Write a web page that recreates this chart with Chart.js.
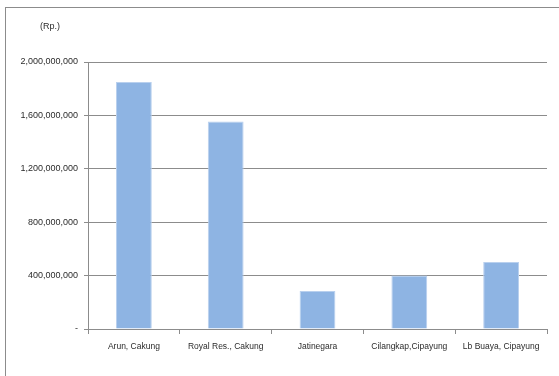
<!DOCTYPE html>
<html>
<head>
<meta charset="utf-8">
<script src="https://cdn.jsdelivr.net/npm/chart.js@4/dist/chart.umd.min.js"></script>
<style>
  html, body { margin: 0; padding: 0; background: #fff; }
  #wrap { position: relative; width: 559px; height: 376px; overflow: hidden; }
  #frame { position: absolute; left: 5px; top: 7px; width: 1000px; height: 1000px; border: 1px solid #8c8c8c; box-sizing: border-box; }
  canvas { position: absolute; left: 0; top: 0; }
</style>
</head>
<body>
<div id="wrap">
  <div id="frame"></div>
  <canvas id="c" width="559" height="376"></canvas>
</div>
<script>
// Project locations and their values in rupiah
const categories = ['Arun, Cakung', 'Royal Res., Cakung', 'Jatinegara', 'Cilangkap,Cipayung', 'Lb Buaya, Cipayung'];
const values = [1850000000, 1555000000, 285000000, 400000000, 502000000];
const unitLabel = '(Rp.)';
const yMax = 2000000000;
const yStep = 400000000;

const FONT = "'Liberation Sans Narrow', 'Liberation Sans', Arial, sans-serif";
const TEXT = '#2b2b2b';

const unitTitle = {
  id: 'unitTitle',
  afterDraw(chart) {
    const ctx = chart.ctx;
    ctx.save();
    ctx.font = '9px ' + FONT;
    ctx.fillStyle = TEXT;
    ctx.textAlign = 'center';
    ctx.textBaseline = 'middle';
    ctx.fillText(unitLabel, 50, 27);
    ctx.restore();
  }
};

new Chart(document.getElementById('c'), {
  type: 'bar',
  data: {
    labels: categories,
    datasets: [{
      data: values,
      backgroundColor: '#8eb4e3',
      borderColor: '#b9d0ee',
      borderWidth: 1,
      categoryPercentage: 1,
      barPercentage: 0.39
    }]
  },
  options: {
    responsive: false,
    animation: false,
    events: [],
    layout: { padding: { left: 0, right: 12, top: 62, bottom: 0 } },
    plugins: { legend: { display: false }, tooltip: { enabled: false }, title: { display: false } },
    scales: {
      x: {
        grid: { offset: true, drawOnChartArea: false, drawTicks: true, tickLength: 5, color: '#8c8c8c' },
        border: { color: '#8c8c8c' },
        ticks: { color: TEXT, font: { family: FONT, size: 8.5 }, padding: 8, maxRotation: 0, autoSkip: false },
        afterFit(scale) { scale.height = 47; }
      },
      y: {
        min: 0,
        max: yMax,
        grid: { color: '#8c8c8c', drawTicks: true, tickLength: 4 },
        border: { color: '#8c8c8c' },
        ticks: {
          stepSize: yStep,
          color: TEXT,
          font: { family: FONT, size: 9 },
          padding: 6,
          callback: v => v === 0 ? '-' : Number(v).toLocaleString('en-US')
        },
        afterFit(scale) { scale.width = 88; }
      }
    }
  },
  plugins: [unitTitle]
});
</script>
</body>
</html>
